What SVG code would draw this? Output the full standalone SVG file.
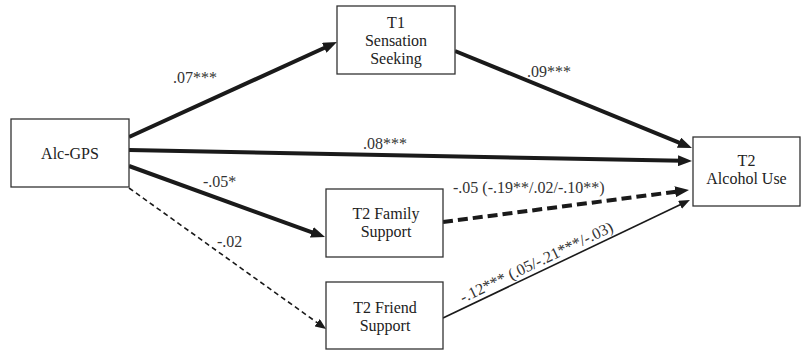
<svg xmlns="http://www.w3.org/2000/svg" width="805" height="351" viewBox="0 0 805 351">
<defs>
<style>
.box{fill:#fff;stroke:#333;stroke-width:1.3}
.nt{font-family:"Liberation Serif","Times New Roman",serif;font-size:16px;fill:#222;text-anchor:middle}
.lb{font-family:"Liberation Serif","Times New Roman",serif;font-size:16px;fill:#333}
.thick{stroke:#1a1a1a;stroke-width:4;fill:none}
.thin{stroke:#1a1a1a;stroke-width:1.6;fill:none}
</style>
<marker id="ah" markerUnits="userSpaceOnUse" markerWidth="15" markerHeight="11" refX="4" refY="5.5" orient="auto">
<path d="M0,0 L14,5.5 L0,11 z" fill="#1a1a1a"/>
</marker>
<marker id="ahs" markerUnits="userSpaceOnUse" markerWidth="12" markerHeight="9" refX="3" refY="4.5" orient="auto">
<path d="M0,0 L11,4.5 L0,9 z" fill="#1a1a1a"/>
</marker>
</defs>
<g id="connectors">
<line class="thick" x1="129" y1="137" x2="327.9" y2="46.2" marker-end="url(#ah)"/>
<line class="thick" x1="129" y1="150" x2="682" y2="160.8" marker-end="url(#ah)"/>
<line class="thick" x1="455" y1="51" x2="682.7" y2="144.2" marker-end="url(#ah)"/>
<line class="thick" x1="129" y1="166" x2="315.6" y2="233.6" marker-end="url(#ah)"/>
<line class="thin" x1="129" y1="188" x2="319.6" y2="324.4" stroke-dasharray="5,3.5" marker-end="url(#ahs)"/>
<line class="thick" x1="443" y1="222" x2="679.1" y2="191.3" stroke-dasharray="10,5" marker-end="url(#ah)"/>
<line class="thin" x1="443" y1="318" x2="682.7" y2="203.5" stroke-width="2" marker-end="url(#ahs)"/>
<text class="lb" x="173" y="83">.07***</text>
<text class="lb" x="527" y="77">.09***</text>
<text class="lb" x="363" y="149">.08***</text>
<text class="lb" x="203" y="187">-.05*</text>
<text class="lb" x="217" y="247">-.02</text>
<text class="lb" x="453" y="193">-.05 (-.19**/.02/-.10**)</text>
<text class="lb" x="463" y="303" transform="rotate(-25.5 463 303)">-.12*** (.05/-.21***/-.03)</text>
</g>
<g id="alc-gps">
<rect class="box" x="11" y="119" width="118" height="68"/>
<text class="nt" x="70" y="159">Alc-GPS</text>
</g>
<g id="t1-sensation">
<rect class="box" x="337" y="6" width="118" height="68"/>
<text class="nt" x="396" y="28">T1</text>
<text class="nt" x="396" y="46">Sensation</text>
<text class="nt" x="396" y="64">Seeking</text>
</g>
<g id="t2-alcohol">
<rect class="box" x="693" y="137" width="107" height="69"/>
<text class="nt" x="746.5" y="166">T2</text>
<text class="nt" x="746.5" y="184">Alcohol Use</text>
</g>
<g id="t2-family">
<rect class="box" x="326" y="189" width="117" height="68"/>
<text class="nt" x="386" y="219">T2 Family</text>
<text class="nt" x="386" y="237">Support</text>
</g>
<g id="t2-friend">
<rect class="box" x="326" y="282" width="117" height="67"/>
<text class="nt" x="385" y="313">T2 Friend</text>
<text class="nt" x="385" y="331">Support</text>
</g>
</svg>
